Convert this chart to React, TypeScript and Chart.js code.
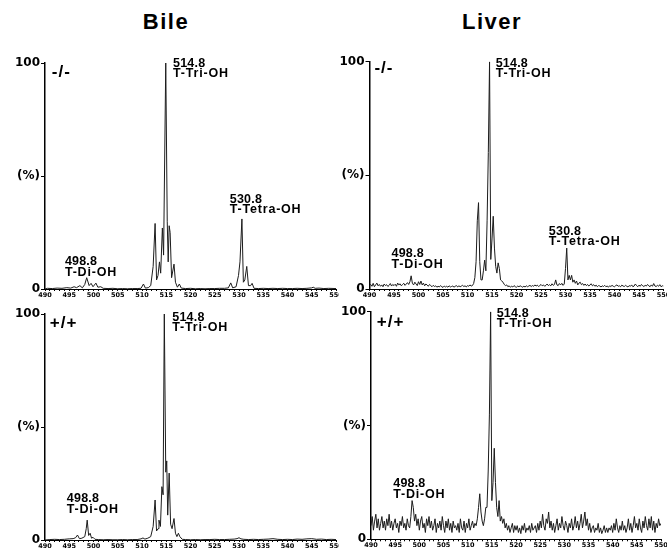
import React, { useEffect, useRef } from 'react';
import { Chart, registerables } from 'chart.js';
Chart.register(...registerables);

// ---------- data ----------
const xTickLabels = [490, 495, 500, 505, 510, 515, 520, 525, 530, 535, 540, 545, 550];
const yTickLabels = ['0', '(%)', '100'];

// Bile -/- (m/z, relative intensity %)
const bileKoMz = [490, 490.5, 491.5, 492.5, 493.5, 494.5, 495.3, 496, 496.5, 497.2, 497.7, 498.2, 498.6, 499.1, 499.5, 499.9, 500.5, 500.9, 501.5, 502, 503, 504, 505, 506, 507, 508, 509, 509.8, 510.3, 510.7, 511.3, 511.8, 512.3, 512.7, 513, 513.3, 513.6, 513.85, 514.2, 514.45, 514.9, 515.2, 515.4, 515.6, 515.8, 516.1, 516.6, 516.9, 517.3, 517.7, 518.1, 519, 520, 521, 522, 523, 524, 525, 526, 527, 527.8, 528.3, 528.7, 529.4, 529.9, 530.2, 530.6, 530.9, 531.2, 531.6, 531.95, 532.4, 532.7, 533.1, 534, 535, 536, 537, 538, 539, 540, 541, 542, 543, 544, 545, 545.3, 545.7, 546.5, 547.5, 548.5, 550];
const bileKoPct = [0, 0.3, 0.2, 0.4, 0.3, 0.6, 0.4, 1.0, 0.6, 1.5, 0.5, 2.0, 5.0, 1.5, 2.5, 1.0, 2.6, 0.8, 1.0, 0.3, 0.2, 0.3, 0.1, 0.2, 0.1, 0.2, 0.2, 0.3, 2.2, 0.4, 0.6, 1.5, 10, 29, 4, 6, 12, 7, 27, 15, 100, 30, 12, 28, 25, 5, 11, 3, 0.8, 2.2, 0.4, 0.2, 0.3, 0.1, 0.2, 0.1, 0.2, 0.2, 0.3, 0.3, 0.5, 2.7, 0.5, 1, 6, 12, 31, 3, 4, 10, 1.5, 1.5, 2.5, 0.3, 0.2, 0.3, 0.2, 0.3, 0.2, 0.3, 0.2, 0.2, 0.3, 0.2, 0.3, 0.5, 0.8, 0.3, 0.4, 0.2, 0.3, 0.2];

// Bile +/+ (m/z, relative intensity %)
const bileWtMz = [490, 491, 492, 493, 494, 495, 495.8, 496.3, 496.7, 497.1, 497.6, 498.2, 498.5, 498.7, 499, 499.3, 499.6, 499.9, 500.3, 501, 502, 503, 504, 505, 506, 507, 508, 509, 509.8, 510.2, 510.6, 511.2, 511.8, 512.3, 512.7, 513, 513.3, 513.5, 513.8, 514.1, 514.35, 514.6, 514.9, 515.1, 515.3, 515.6, 515.9, 516.2, 516.6, 516.9, 517.2, 517.5, 517.8, 518.3, 519, 520, 521, 522, 523, 524, 525, 526, 527, 528, 529, 529.6, 530, 530.4, 531, 532, 533, 534, 535, 536, 537, 538, 539, 540, 541, 542, 543, 544, 545, 546, 547, 548, 549, 550];
const bileWtPct = [0, 0.2, 0.3, 0.2, 0.3, 0.5, 0.6, 1.0, 2.2, 0.6, 0.8, 1.5, 5, 8.8, 2, 3, 0.8, 1.2, 0.3, 0.2, 0.1, 0.2, 0.1, 0.1, 0.2, 0.1, 0.2, 0.2, 0.5, 0.9, 0.4, 0.8, 1.5, 6, 17.7, 4, 5, 8.8, 6, 23.6, 20, 100, 30, 35, 11, 29.6, 7, 5, 9.5, 3, 1.5, 3, 1.5, 0.3, 0.2, 0.1, 0.2, 0.1, 0.2, 0.2, 0.3, 0.2, 0.2, 0.3, 0.4, 0.6, 1.0, 0.5, 0.3, 0.2, 0.3, 0.2, 0.3, 0.4, 0.6, 0.3, 0.2, 0.3, 0.2, 0.4, 0.3, 0.5, 0.6, 0.3, 0.4, 0.2, 0.3, 0.2];

// Liver spectra: sampled every 0.25 m/z from 490
const liverStartMz = 490;
const liverStepMz = 0.25;
const liverKoPct = [
  1.5, 2.0, 1.2, 2.5, // 490
  1.0, 1.8, 2.6, 1.4, // 491
  2.0, 1.2, 1.8, 1.0, // 492
  2.2, 1.5, 1.9, 1.1, // 493
  1.6, 2.4, 1.3, 2.0, // 494
  1.5, 2.1, 1.2, 2.6, // 495
  1.8, 2.3, 1.4, 2.0, // 496
  2.5, 1.6, 2.2, 2.8, // 497
  2.0, 3.2, 5.8, 2.5, // 498
  1.8, 3.0, 2.2, 1.5, // 499
  3.2, 2.0, 3.5, 1.8, // 500
  2.6, 1.4, 2.2, 1.8, // 501
  1.2, 2.0, 1.5, 1.0, // 502
  1.6, 1.1, 1.4, 0.8, // 503
  1.2, 0.9, 1.5, 1.0, // 504
  0.7, 1.3, 0.9, 1.2, // 505
  0.8, 1.4, 0.9, 1.1, // 506
  1.3, 0.8, 1.2, 1.5, // 507
  0.9, 1.4, 1.0, 1.3, // 508
  1.6, 1.1, 1.4, 0.9, // 509
  1.5, 1.2, 1.8, 1.3, // 510
  1.5, 2.4, 5.0, 12, // 511
  30, 38, 12, 4, // 512
  4, 8, 12.7, 8, // 513
  30, 60, 100, 13, // 514
  22, 32, 18, 10, // 515
  7, 11.5, 9, 4, // 516
  3.5, 3, 2, 1.5, // 517
  1.8, 1.0, 1.4, 0.8, // 518
  1.2, 0.9, 1.5, 1.0, // 519
  0.8, 1.3, 1.0, 1.4, // 520
  1.1, 0.8, 1.2, 0.9, // 521
  1.4, 1.0, 1.3, 1.6, // 522
  1.1, 1.5, 1.2, 1.8, // 523
  1.3, 1.7, 1.1, 1.5, // 524
  2.0, 1.4, 1.8, 1.2, // 525
  1.6, 2.2, 1.5, 1.9, // 526
  1.4, 2.3, 1.6, 2.0, // 527
  4.0, 1.8, 1.5, 2.4, // 528
  1.8, 2.5, 1.6, 2.2, // 529
  9, 18, 4, 6, // 530
  4, 6, 3, 4, // 531
  2.5, 3.5, 1.8, 2.6, // 532
  3.0, 1.9, 2.4, 1.6, // 533
  2.2, 1.5, 2.0, 1.3, // 534
  1.8, 2.3, 1.4, 1.9, // 535
  1.2, 1.7, 1.0, 1.5, // 536
  1.3, 0.9, 1.4, 1.1, // 537
  1.6, 1.0, 1.3, 0.8, // 538
  1.4, 1.1, 1.6, 1.2, // 539
  1.0, 1.5, 1.8, 1.2, // 540
  1.4, 1.0, 1.7, 1.3, // 541
  1.1, 1.6, 1.2, 0.9, // 542
  1.5, 1.2, 1.8, 1.0, // 543
  1.3, 2.2, 1.5, 1.0, // 544
  1.7, 1.2, 2.0, 1.4, // 545
  1.1, 1.6, 1.3, 2.0, // 546
  1.4, 1.0, 1.8, 1.2, // 547
  2.4, 1.3, 1.1, 1.6, // 548
  1.2, 1.9, 1.0, 1.4, // 549
  1.3, // 550
];
const liverWtPct = [
  6, 10, 4, 8, // 490
  11, 5, 9, 4, // 491
  7, 10, 5, 8, // 492
  4, 9, 6, 11, // 493
  5, 8, 4, 7, // 494
  9, 5, 7, 3, // 495
  8, 6, 10, 5, // 496
  7, 4, 9, 6, // 497
  5, 10, 17, 14, // 498
  8, 11, 6, 9, // 499
  4, 8, 10, 5, // 500
  7, 3, 9, 6, // 501
  10, 5, 8, 4, // 502
  6, 9, 3, 7, // 503
  5, 8, 4, 10, // 504
  6, 3, 8, 5, // 505
  9, 4, 7, 3, // 506
  8, 5, 6, 4, // 507
  7, 3, 9, 5, // 508
  4, 8, 3, 7, // 509
  5, 9, 4, 6, // 510
  8, 5, 7, 6, // 511
  9, 14, 20, 12, // 512
  8, 6, 9, 14, // 513
  14, 30, 55, 100, // 514
  17, 25, 40, 25, // 515
  14, 10, 17, 8, // 516
  10, 7, 9, 5, // 517
  7, 4, 6, 3, // 518
  5, 7, 3, 6, // 519
  4, 6, 3, 5, // 520
  2.5, 6, 4, 7, // 521
  3, 5, 4, 6, // 522
  3, 7, 4, 5, // 523
  6, 3, 7, 4, // 524
  8, 5, 11, 6, // 525
  4, 9, 7, 12, // 526
  5, 8, 4, 7, // 527
  3, 6, 9, 4, // 528
  7, 5, 10, 6, // 529
  4, 8, 6, 3, // 530
  7, 5, 9, 4, // 531
  6, 10, 5, 8, // 532
  4, 7, 11, 5, // 533
  8, 12, 6, 9, // 534
  4, 7, 3, 5, // 535
  6, 3, 5, 4, // 536
  7, 3, 5, 2.5, // 537
  4, 6, 3, 5, // 538
  3, 5, 4, 6, // 539
  3, 7, 4, 9, // 540
  5, 3, 6, 4, // 541
  8, 4, 6, 3, // 542
  5, 9, 4, 7, // 543
  3, 6, 10, 5, // 544
  7, 4, 9, 5, // 545
  3, 8, 5, 10, // 546
  6, 4, 9, 5, // 547
  10, 4, 8, 3, // 548
  7, 5, 9, 6, // 549
  7, // 550
];

// ---------- annotations ----------
type PeakLabel = { mz: number; pct: number; lines: string[] };
const bileKoLabels: PeakLabel[] = [
  { mz: 516.4, pct: 98.4, lines: ['514.8', 'T-Tri-OH'] },
  { mz: 494.1, pct: 10.6, lines: ['498.8', 'T-Di-OH'] },
  { mz: 528.1, pct: 38.2, lines: ['530.8', 'T-Tetra-OH'] },
];
const liverKoLabels: PeakLabel[] = [
  { mz: 515.75, pct: 97.8, lines: ['514.8', 'T-Tri-OH'] },
  { mz: 494.5, pct: 13.9, lines: ['498.8', 'T-Di-OH'] },
  { mz: 526.6, pct: 23.8, lines: ['530.8', 'T-Tetra-OH'] },
];
const bileWtLabels: PeakLabel[] = [
  { mz: 516.25, pct: 97, lines: ['514.8', 'T-Tri-OH'] },
  { mz: 494.5, pct: 16.7, lines: ['498.8', 'T-Di-OH'] },
];
const liverWtLabels: PeakLabel[] = [
  { mz: 516.0, pct: 97.8, lines: ['514.8', 'T-Tri-OH'] },
  { mz: 494.6, pct: 22.8, lines: ['498.8', 'T-Di-OH'] },
];

type Panel = {
  key: string;
  left: number; top: number; clipW: number; h: number;
  canvasW: number; yAxisW: number; padTop: number; padRight: number; xAxisH: number;
  points: { x: number; y: number }[];
  labels: PeakLabel[];
  genotype: { mz: number; pct: number; text: string };
};

const pairs = (mz: number[], pct: number[]) => mz.map((m, i) => ({ x: m, y: pct[i] }));
const sampled = (vals: number[]) => vals.map((v, i) => ({ x: liverStartMz + i * liverStepMz, y: v }));

const panels: Panel[] = [
  { key: 'tl', left: 0, top: 38, clipW: 339, h: 262, canvasW: 344, yAxisW: 45, padTop: 25, padRight: 8, xAxisH: 11,
    points: pairs(bileKoMz, bileKoPct), labels: bileKoLabels, genotype: { mz: 491.4, pct: 93.9, text: '-/-' } },
  { key: 'tr', left: 330, top: 38, clipW: 337, h: 262, canvasW: 342, yAxisW: 39.5, padTop: 23.7, padRight: 8.5, xAxisH: 11,
    points: sampled(liverKoPct), labels: liverKoLabels, genotype: { mz: 491.0, pct: 94.9, text: '-/-' } },
  { key: 'bl', left: 0, top: 288, clipW: 339, h: 262, canvasW: 344, yAxisW: 45, padTop: 26, padRight: 8, xAxisH: 10,
    points: pairs(bileWtMz, bileWtPct), labels: bileWtLabels, genotype: { mz: 491.0, pct: 93.7, text: '+/+' } },
  { key: 'br', left: 330, top: 288, clipW: 337, h: 262, canvasW: 339, yAxisW: 41, padTop: 23.7, padRight: 8, xAxisH: 10.7,
    points: sampled(liverWtPct), labels: liverWtLabels, genotype: { mz: 491.2, pct: 93.4, text: '+/+' } },
];

const tickFont = { family: '"DejaVu Sans", sans-serif', size: 12, weight: 'bold' as const };
const xTickFont = { family: '"DejaVu Sans", sans-serif', size: 6.5, weight: 'bold' as const };

function SpectrumPanel({ p }: { p: Panel }) {
  const ref = useRef<HTMLCanvasElement | null>(null);
  useEffect(() => {
    if (!ref.current) return;
    const labelPlugin = {
      id: 'peakLabels',
      afterDraw(chart: any) {
        const { ctx, scales } = chart;
        ctx.save();
        ctx.fillStyle = '#000';
        ctx.textAlign = 'left';
        ctx.textBaseline = 'alphabetic';
        for (const l of p.labels) {
          const x = scales.x.getPixelForValue(l.mz);
          const y = scales.y.getPixelForValue(l.pct);
          l.lines.forEach((t, i) => {
            ctx.font = 'bold 12.5px "Liberation Sans", Arial, sans-serif';
            (ctx as any).letterSpacing = i === 0 ? '0.2px' : '0.8px';
            ctx.fillText(t, x, y + i * 10.5);
          });
        }
        const g = p.genotype;
        ctx.font = 'bold 17px "Liberation Sans", Arial, sans-serif';
        (ctx as any).letterSpacing = '1px';
        ctx.fillText(g.text, scales.x.getPixelForValue(g.mz), scales.y.getPixelForValue(g.pct));
        ctx.restore();
      },
    };
    const chart = new Chart(ref.current, {
      type: 'line',
      data: {
        datasets: [{
          data: p.points,
          borderColor: '#1c1c1c',
          borderWidth: 1,
          pointRadius: 0,
          tension: 0,
          fill: false,
        }],
      },
      options: {
        animation: false,
        responsive: false,
        maintainAspectRatio: false,
        parsing: false as any,
        layout: { padding: { top: p.padTop, right: p.padRight, left: 0, bottom: 0 } },
        plugins: { legend: { display: false }, tooltip: { enabled: false }, title: { display: false } },
        scales: {
          x: {
            type: 'linear',
            min: 490,
            max: 550,
            afterBuildTicks: (s: any) => {
              const t = [];
              for (let v = 490; v <= 550; v++) t.push({ value: v });
              s.ticks = t;
            },
            afterFit: (s: any) => { s.height = p.xAxisH; },
            ticks: {
              autoSkip: false,
              maxRotation: 0,
              minRotation: 0,
              padding: 0,
              color: '#000',
              font: xTickFont,
              callback: (v: any) => (xTickLabels.includes(Number(v)) ? String(v) : ''),
            },
            grid: { drawOnChartArea: false, tickLength: 2, color: '#000', lineWidth: 1 },
            border: { color: '#000', width: 1 },
          },
          y: {
            type: 'linear',
            min: 0,
            max: 100,
            afterBuildTicks: (s: any) => { s.ticks = [{ value: 0 }, { value: 50 }, { value: 100 }]; },
            afterFit: (s: any) => { s.width = p.yAxisW; },
            ticks: {
              padding: 1,
              color: '#000',
              font: tickFont,
              callback: (v: any) => yTickLabels[[0, 50, 100].indexOf(Number(v))] ?? '',
            },
            grid: { drawOnChartArea: false, tickLength: 4, color: '#000', lineWidth: 1 },
            border: { color: '#000', width: 1.5 },
          },
        },
      },
      plugins: [labelPlugin],
    } as any);
    return () => chart.destroy();
  }, [p]);
  return (
    <div style={{ position: 'absolute', left: p.left, top: p.top, width: p.clipW, height: p.h, overflow: 'hidden' }}>
      <canvas ref={ref} width={p.canvasW} height={p.h} style={{ width: p.canvasW, height: p.h, display: 'block' }} />
    </div>
  );
}

const titleStyle: React.CSSProperties = {
  position: 'absolute',
  top: 9,
  fontFamily: '"Liberation Sans", Arial, sans-serif',
  fontWeight: 700,
  fontSize: 22,
  letterSpacing: 1.5,
  lineHeight: '26px',
  color: '#000',
  transform: 'translateX(-50%)',
  whiteSpace: 'nowrap',
};

export default function App() {
  return (
    <div style={{ position: 'absolute', left: 0, top: 0, width: 667, height: 550, background: '#fff', overflow: 'hidden' }}>
      <div style={{ ...titleStyle, left: 166 }}>Bile</div>
      <div style={{ ...titleStyle, left: 492 }}>Liver</div>
      {panels.map((p) => <SpectrumPanel key={p.key} p={p} />)}
    </div>
  );
}
